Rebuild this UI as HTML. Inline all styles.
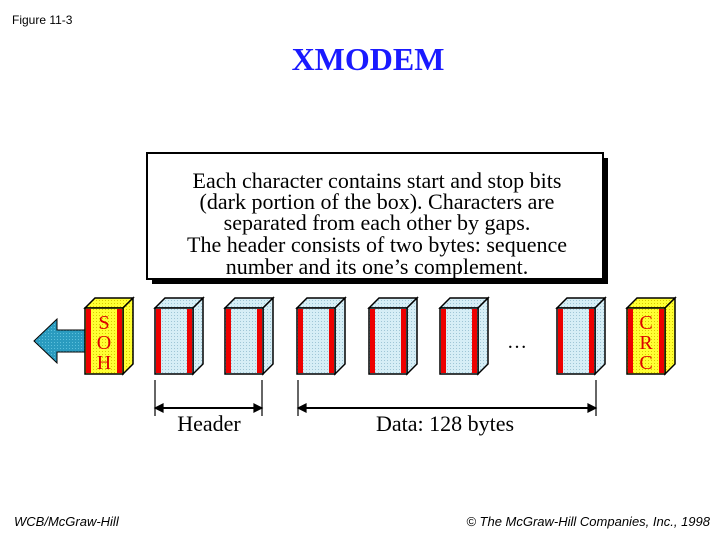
<!DOCTYPE html>
<html><head><meta charset="utf-8"><style>
html,body{margin:0;padding:0;background:#fff;}
svg{display:block;}
</style></head><body>
<svg width="728" height="546" viewBox="0 0 728 546" xmlns="http://www.w3.org/2000/svg">
<defs>
<pattern id="dots" width="3" height="3" patternUnits="userSpaceOnUse"><rect width="3" height="3" fill="#d6eef6"/><rect width="1" height="1" fill="#9fc6d6"/></pattern>
<pattern id="ydots" width="3" height="3" patternUnits="userSpaceOnUse"><rect width="3" height="3" fill="#ffff33"/><rect width="1" height="1" fill="#d8c800"/></pattern>
<pattern id="bdots" width="3" height="3" patternUnits="userSpaceOnUse"><rect width="3" height="3" fill="#2a9bbf"/><rect width="1" height="1" fill="#5cc0dc"/></pattern>
</defs>
<text x="12" y="24" font-family="Liberation Sans, sans-serif" font-size="12">Figure 11-3</text>
<text x="368" y="70" text-anchor="middle" font-family="Liberation Serif, serif" font-size="32" font-weight="bold" fill="#1a1aff">XMODEM</text>

<g>
<rect x="152" y="158" width="456" height="126" fill="#000"/>
<rect x="147" y="153" width="456" height="126" fill="#fff" stroke="#000" stroke-width="2"/>
<g font-family="Liberation Serif, serif" font-size="22" text-anchor="middle" fill="#000">
<text x="377" y="188">Each character contains start and stop bits</text>
<text x="377" y="209">(dark portion of the box). Characters are</text>
<text x="377" y="230">separated from each other by gaps.</text>
<text x="377" y="252">The header consists of two bytes: sequence</text>
<text x="377" y="274">number and its one’s complement.</text>
</g>
</g>

<polygon points="34,341 57,319 57,330 86,330 86,352 57,352 57,363" fill="url(#bdots)" stroke="#000" stroke-width="1"/>

<g id="boxes"></g>
<text x="517" y="348" text-anchor="middle" font-family="Liberation Serif, serif" font-size="20">…</text>

<g stroke="#000" stroke-width="1.2" fill="none">
<line x1="155" y1="380" x2="155" y2="416"/><line x1="262" y1="380" x2="262" y2="416"/>
<line x1="157" y1="408" x2="260" y2="408" stroke-width="2"/>
<polygon points="155,408 163,404 163,412" fill="#000"/><polygon points="262,408 254,404 254,412" fill="#000"/>
</g>
<g stroke="#000" stroke-width="1.2" fill="none">
<line x1="298" y1="380" x2="298" y2="416"/><line x1="596" y1="380" x2="596" y2="416"/>
<line x1="300" y1="408" x2="594" y2="408" stroke-width="2"/>
<polygon points="298,408 306,404 306,412" fill="#000"/><polygon points="596,408 588,404 588,412" fill="#000"/>
</g>
<text x="209" y="431" text-anchor="middle" font-family="Liberation Serif, serif" font-size="22">Header</text>
<text x="445" y="431" text-anchor="middle" font-family="Liberation Serif, serif" font-size="22">Data: 128 bytes</text>

<text x="14" y="526" font-family="Liberation Sans, sans-serif" font-size="13" font-style="italic">WCB/McGraw-Hill</text>
<text x="710" y="526" text-anchor="end" font-family="Liberation Sans, sans-serif" font-size="13" font-style="italic">© The McGraw-Hill Companies, Inc., 1998</text>
</svg>
<script>
const boxX=[85,155,225,297,369,440,557,627];
const boxKind=['soh','d','d','d','d','d','d','crc'];
const g=document.getElementById('boxes');
const NS='http://www.w3.org/2000/svg';
function mk(tag,attrs,parent){const e=document.createElementNS(NS,tag);for(const k in attrs)e.setAttribute(k,attrs[k]);parent.appendChild(e);return e;}
boxX.forEach((x,i)=>{
  const k=boxKind[i];
  const y=308,w=38,h=66,d=10;
  const grp=mk('g',{},g);
  
  
  const fill=k==='d'?'url(#dots)':'url(#ydots)';
  mk('polygon',{points:`${x},${y} ${x+d},${y-d} ${x+w+d},${y-d} ${x+w},${y}`,fill:fill,stroke:'#000','stroke-width':1.5},grp);
  mk('polygon',{points:`${x+w},${y} ${x+w+d},${y-d} ${x+w+d},${y+h-d} ${x+w},${y+h}`,fill:fill,stroke:'#000','stroke-width':1.5},grp);
  mk('rect',{x:x,y:y,width:w,height:h,fill:fill,stroke:'#000','stroke-width':1.5},grp);
  mk('rect',{x:x+1,y:y+1,width:5,height:h-2,fill:'#ee0000'},grp);
  mk('rect',{x:x+w-6,y:y+1,width:5,height:h-2,fill:'#ee0000'},grp);
  if(k!=='d'){
    const letters=k==='soh'?['S','O','H']:['C','R','C'];
    letters.forEach((L,j)=>{
      const t=mk('text',{x:x+w/2,y:y+21+j*20,'text-anchor':'middle','font-family':'Liberation Serif, serif','font-size':20,fill:'#dd0000'},grp);
      t.textContent=L;
    });
  }
});
</script>
</body></html>
